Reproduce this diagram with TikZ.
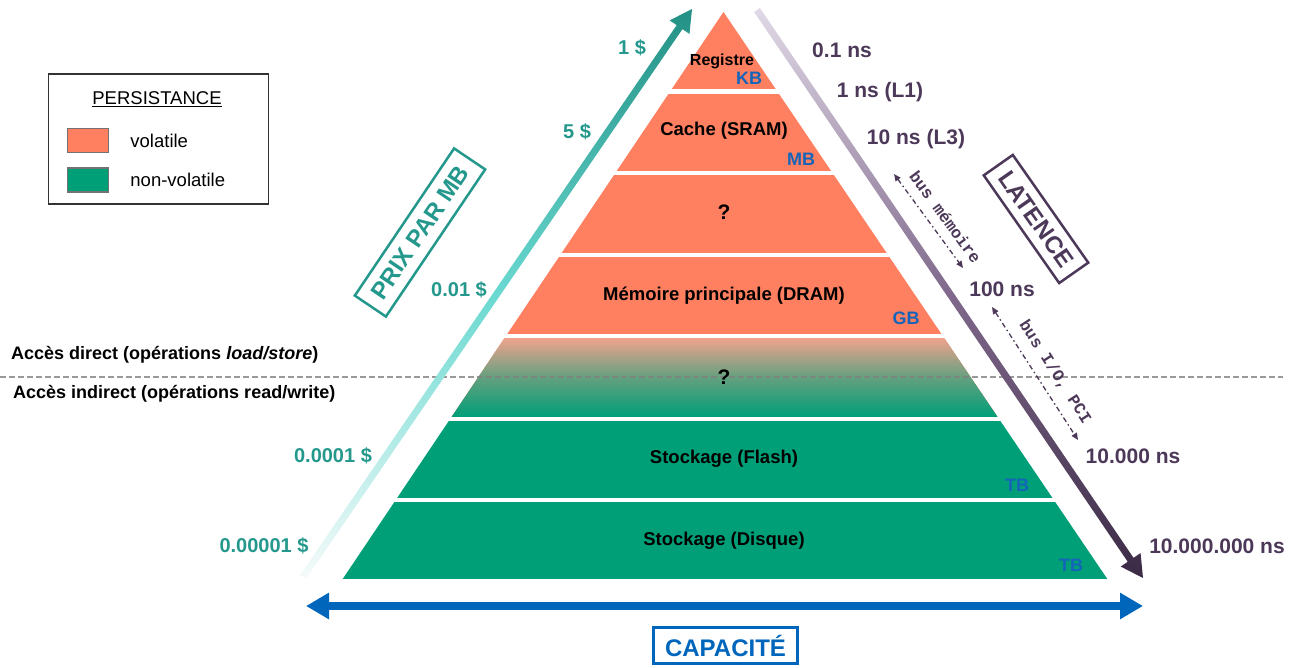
\documentclass[tikz,border=0pt]{standalone}
\usepackage{fontspec}
\setmainfont{Liberation Sans}
\newfontfamily\busfont{Liberation Mono}
\usetikzlibrary{positioning,calc,arrows.meta}

\definecolor{volatile}{RGB}{255,128,96}
\definecolor{nonvolatile}{RGB}{0,159,120}
\definecolor{bandtop}{RGB}{236,163,140}
\definecolor{bandmid}{RGB}{100,160,127}
\definecolor{unitblue}{RGB}{20,100,186}
\definecolor{capblue}{RGB}{0,102,187}
\definecolor{prixteal}{RGB}{36,152,140}
\definecolor{latpurple}{RGB}{76,56,88}

% fat arrow: tail, tip, shading
\newcommand{\shadedarrow}[3]{%
  \coordinate (#2-base) at ($(#2)!22pt!(#1)$);
  \shade[#3] ($(#1)!3.5pt!90:(#2)$) -- ($(#2-base)!3.5pt!90:(#2)$)
    -- ($(#2-base)!12pt!90:(#2)$) -- (#2)
    -- ($(#2-base)!12pt!-90:(#2)$) -- ($(#2-base)!3.5pt!-90:(#2)$)
    -- ($(#1)!3.5pt!-90:(#2)$) -- cycle;}

\tikzset{
  every band/.style={fill=volatile},
  band 5/.style={top color=bandtop, bottom color=nonvolatile, middle color=bandmid},
  band 6/.style={fill=nonvolatile},
  band 7/.style={fill=nonvolatile},
  band text/.style={font=\bfseries\fontsize{18.5}{22}\selectfont},
  band text 3/.style={font=\bfseries\fontsize{21}{24}\selectfont},
  band text 5/.style={font=\bfseries\fontsize{21}{24}\selectfont},
  unit label/.style={font=\bfseries\fontsize{18}{20}\selectfont, text=unitblue},
  price label/.style={font=\bfseries\fontsize{20}{22}\selectfont, text=prixteal},
  latency label/.style={font=\bfseries\fontsize{21}{23}\selectfont, text=latpurple},
  access label/.style={font=\bfseries\fontsize{18}{20}\selectfont, anchor=west, inner sep=0pt},
  title box/.style={draw, line width=2.5pt, font=\bfseries\fontsize{24}{26}\selectfont, inner sep=0pt},
  legend text/.style={font=\fontsize{18.5}{20}\selectfont, inner sep=0pt},
  swatch/.style={draw=black!55, line width=1.5pt, minimum width=41pt, minimum height=24pt, inner sep=0pt},
  bus arrow/.style={draw=latpurple, line width=1.3pt, dash pattern=on 5pt off 3pt on 1.5pt off 3pt,
    {Triangle[length=7pt,width=6pt]}-{Triangle[length=7pt,width=6pt]}},
  bus label/.style={font=\busfont\bfseries\fontsize{16.5}{18}\selectfont, text=latpurple, sloped, above=6pt, pos=0.56}
}

\begin{document}
\begin{tikzpicture}[x=1pt, y=-1pt]
\useasboundingbox (0,0) rectangle (1303,668);

% legend
\node[draw=black!80, line width=1.2pt, minimum width=220pt, minimum height=130pt, anchor=north west] (legend) at (47.5,73.5) {};
\node[legend text] (persist) at (157,99) {\underline{PERSISTANCE}};
\node[swatch, fill=volatile] (sw-vol) at (88,140.5) {};
\node[swatch, fill=nonvolatile] (sw-nonvol) at (88,180) {};
\node[legend text, right=21pt of sw-vol] (vol) {volatile};
\node[legend text, right=21pt of sw-nonvol] (nonvol) {non-volatile};

% pyramid
\coordinate (apex) at (723.5,12);
\coordinate (base-l) at (342,580);
\coordinate (base-r) at (1108,580);
\begin{scope}
  \clip (apex) -- (base-l) -- (base-r) -- cycle;
  \foreach \i in {1,...,7}
    \path[every band/.try, band \i/.try] (300,{12+(\i-1)*81.7}) rectangle (1150,{7.5+\i*81.7});
\end{scope}

% split direct / indirect
\coordinate (split-l) at (0,377);
\coordinate (split-r) at (1283,377);
\draw[black!50, line width=1.3pt, dash pattern=on 6pt off 3pt, opacity=0.8] (split-l) -- (split-r);

% prix and latence arrows
\coordinate (prix-tail) at (303,577);
\coordinate (prix-tip) at (692,9);
\shadedarrow{prix-tail}{prix-tip}{top color=prixteal!95!black, bottom color=prixteal!4, middle color={rgb,255:red,106;green,217;blue,209}}
\coordinate (lat-tail) at (757,10);
\coordinate (lat-tip) at (1143,578);
\shadedarrow{lat-tail}{lat-tip}{top color={rgb,255:red,224;green,217;blue,230}, bottom color={rgb,255:red,59;green,42;blue,69}, middle color={rgb,255:red,128;green,105;blue,140}}

% capacite arrow
\coordinate (cap-l) at (306,606);
\coordinate (cap-r) at (1143,606);
\draw[capblue, line width=8pt, {Triangle[length=23pt,width=25pt]}-{Triangle[length=23pt,width=25pt]}] (cap-l) -- (cap-r);

% band texts
\node[band text, font=\bfseries\fontsize{16}{18}\selectfont] (registre) at (722,61) {Registre};
\foreach \t/\y [count=\i from 2] in {Cache (SRAM)/131, ?/212, Mémoire principale (DRAM)/296, ?/377, Stockage (Flash)/459, Stockage (Disque)/541}
  \node[band text, band text \i/.try] (band-\i) at (724,\y) {\t};

\foreach \u/\x/\y [count=\i] in {KB/749/78, MB/801/159, GB/906/318, TB/1017/485, TB/1071/565}
  \node[unit label] (unit-\i) at (\x,\y) {\u};

% prix
\foreach \p/\x/\y [count=\i] in {1 \$/632/48, 5 \$/577/132, 0.01 \$/459/290, 0.0001 \$/333/456, 0.00001 \$/264/546}
  \node[price label] (prix-\i) at (\x,\y) {\p};

% latence
\foreach \l/\x/\y [count=\i] in {0.1 ns/842/50, 1 ns (L1)/880/92, 10 ns (L3)/916/139, 100 ns/1002/289, 10.000 ns/1133/456, 10.000.000 ns/1217/546}
  \node[latency label] (lat-\i) at (\x,\y) {\l};

% bus
\coordinate (busmem-a) at (894,174);
\coordinate (busmem-b) at (963,268);
\draw[bus arrow] (busmem-a) -- (busmem-b) node[bus label] {bus mémoire};
\coordinate (busio-a) at (992,307);
\coordinate (busio-b) at (1078,440);
\draw[bus arrow] (busio-a) -- (busio-b) node[bus label] {bus I/O, PCI};

% access
\node[access label] (direct) at (11,355) {Accès direct (opérations \textit{load/store})};
\node[access label] (indirect) at (13,394) {Accès indirect (opérations read/write)};

% titles
\node[title box, draw=prixteal, text=prixteal, rotate=56, minimum width=177.5pt, minimum height=37.5pt] (prix) at (420,232.5) {PRIX PAR MB};
\node[title box, draw=latpurple, text=latpurple, rotate=-55, minimum width=131.5pt, minimum height=35.5pt] (latence) at (1036,219) {LATENCE};
\node[title box, draw=capblue, text=capblue, line width=3pt, minimum width=144pt, minimum height=36pt] (capacite) at (725.5,645.5) {CAPACITÉ};

\end{tikzpicture}
\end{document}
